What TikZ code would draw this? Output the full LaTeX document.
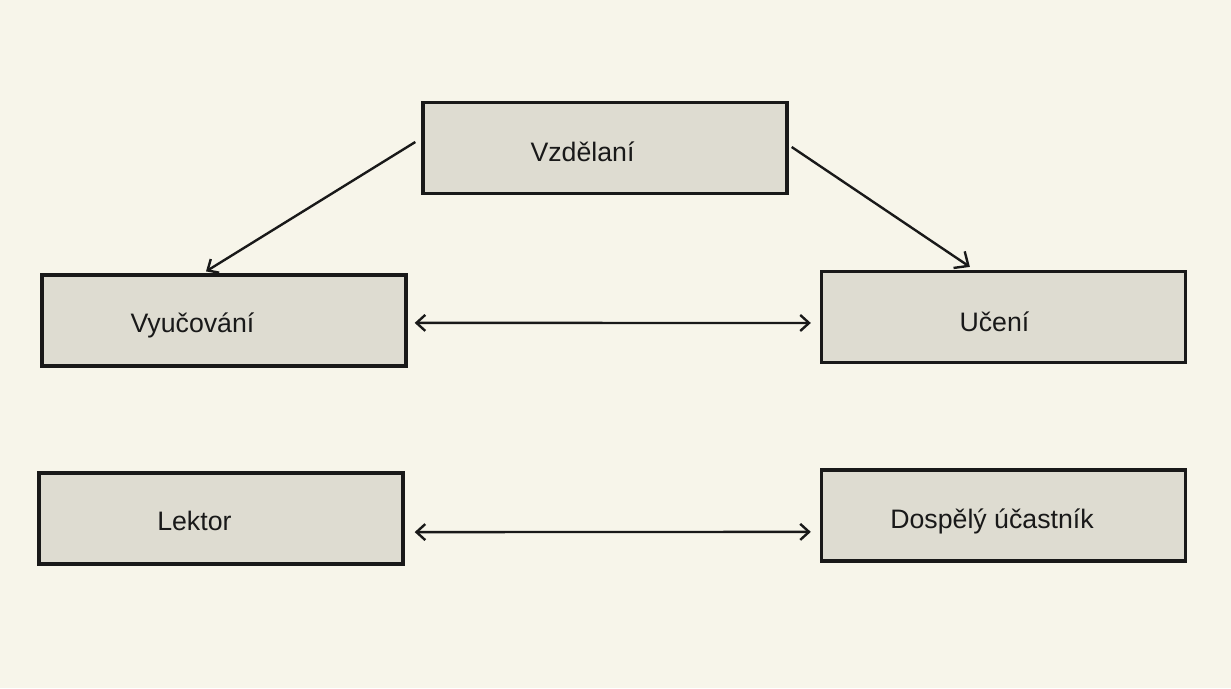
\documentclass[tikz,border=0pt]{standalone}
\usepackage{fontspec}
\setmainfont{Liberation Sans}
\usetikzlibrary{arrows.meta,calc}
\definecolor{paper}{RGB}{247,245,234}
\definecolor{boxfill}{RGB}{222,220,209}
\definecolor{ink}{RGB}{25,25,25}

\begin{document}
\begin{tikzpicture}[
    box/.style={draw=ink, line width=2.4pt, fill=boxfill, minimum width=9.1cm, minimum height=2.27cm, inner sep=0pt},
    lbl/.style={anchor=base, font=\fontsize{19}{22}\selectfont, text=ink},
    arr/.style={draw=ink, line width=1.7pt, >={Straight Barb[length=2.2mm,width=4mm]}},
    bigtip/.style={>={Straight Barb[length=2.8mm,width=5mm]}}
]
    \fill[paper] (0,0) rectangle (30.775,17.2);

    \node[box] (vzdelani) at (15.125,13.5)  {};
    \node[box] (vyucovani) at (5.6,9.1875)  {};
    \node[box] (uceni) at (25.0875,9.275)   {};
    \node[box] (lektor) at (5.525,4.2375)   {};
    \node[box] (dospely) at (25.0875,4.3125) {};

    \node[lbl] (vzdelanitext) at (14.5625,13.15) {Vzdělaní};
    \node[lbl] (vyucovanitext) at (4.8125,8.875) {Vyučování};
    \node[lbl] (ucenitext) at (24.86,8.9)       {Učení};
    \node[lbl] (lektortext) at (4.86,3.95)      {Lektor};
    \node[lbl] (dospelytext) at (24.8,4.0)      {Dospělý účastník};

    \draw [arr, ->] ($(vzdelani.west)+(-0.15,0.15)$) -- ($(vyucovani.north)+(-0.45,0.05)$);
    \draw [arr, bigtip, ->] ($(vzdelani.east)+(0.075,0.025)$) -- ($(uceni.north)+(-0.84,0.075)$);
    \draw [arr, <->] ($(vyucovani.east)+(0.175,-0.06)$) -- ($(uceni.west)+(-0.225,-0.15)$);
    \draw [arr, <->] ($(lektor.east)+(0.25,-0.34)$) -- ($(dospely.west)+(-0.225,-0.41)$);
\end{tikzpicture}
\end{document}
